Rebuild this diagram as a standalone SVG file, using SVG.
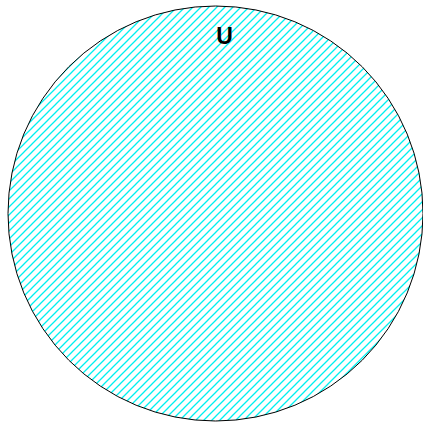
<svg xmlns="http://www.w3.org/2000/svg" width="423" height="422" viewBox="0 0 423 422">
<defs>
<pattern id="hatch" patternUnits="userSpaceOnUse" width="8" height="8">
<path d="M-1,1 L1,-1 M0,8 L8,0 M7,9 L9,7" stroke="#00f0f0" stroke-width="1.3"/>
</pattern>
</defs>
<style>
.lbl{font-family:"Liberation Sans",Arial,sans-serif;font-weight:bold;font-size:23px;fill:#000}
</style>
<g id="U">
<circle cx="215.5" cy="213.5" r="207.5" fill="#fff" stroke="none"/>
<circle cx="215.5" cy="213.5" r="207.5" fill="url(#hatch)" stroke="#000" stroke-width="1"/>
<text class="lbl" x="224.5" y="44" text-anchor="middle">U</text>
</g>
<g id="connectors"/>
</svg>
